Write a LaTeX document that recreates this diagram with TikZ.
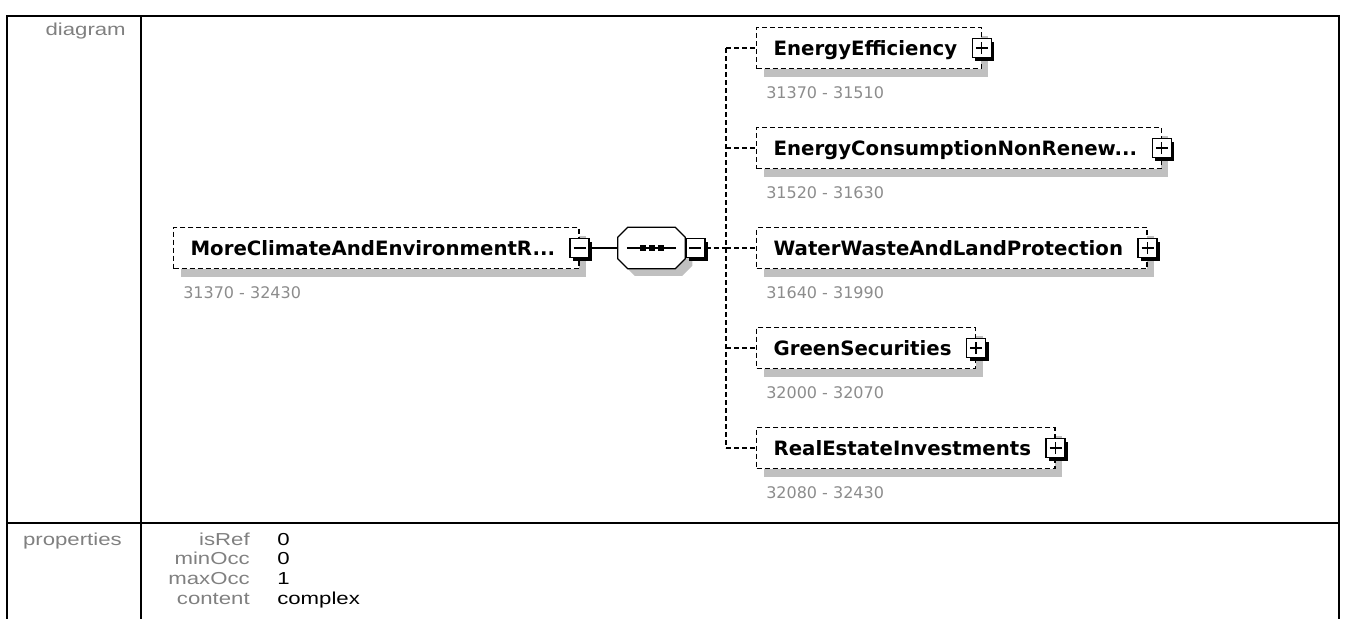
\documentclass[tikz,border=0pt]{standalone}
\usepackage{fontspec}
\usepackage{graphicx}
\setmainfont{Liberation Sans}
\newfontfamily\elemfont{DejaVu Sans}
\usepackage{xcolor}
\usetikzlibrary{shadows}
\definecolor{shadowgray}{HTML}{C0C0C0}
\definecolor{rangegray}{HTML}{8C8C8C}
\definecolor{labelgray}{HTML}{808080}
\newcommand{\widetxt}[1]{\scalebox{1.28}[1]{#1}}

\begin{document}
\begin{tikzpicture}[x=0.75pt,y=-0.75pt,
  frame/.style={line width=1.5pt},
  rowlabel/.style={anchor=east,inner sep=0pt,text=labelgray,text height=9.3pt,text depth=0pt,font=\fontsize{13}{15}\selectfont},
  propval/.style={anchor=west,inner sep=0pt,text height=9.3pt,text depth=0pt,font=\fontsize{13}{15}\selectfont},
  elem/.style={draw,fill=white,dash pattern=on 3.75pt off 2.25pt,line width=0.9pt,
    minimum height=30.75pt,inner xsep=12.75pt,inner ysep=0pt,anchor=west,
    text height=10.6pt,text depth=0pt,font=\elemfont\bfseries\fontsize{14.8}{16}\selectfont,
    drop shadow={shadow xshift=5.25pt,shadow yshift=-6pt,fill=shadowgray,opacity=1}},
  occrange/.style={anchor=west,inner sep=0pt,text=rangegray,text height=8.7pt,text depth=0pt,
    font=\elemfont\fontsize{12}{14}\selectfont},
  toggle/.style={draw,fill=white,line width=1pt,minimum size=14.25pt,inner sep=0pt,
    drop shadow={shadow xshift=2.25pt,shadow yshift=-2.25pt,fill=black,opacity=1}},
  tminus/.style={toggle,path picture={\draw[line width=1pt]
    ([xshift=-4.5pt]path picture bounding box.center) -- ([xshift=4.5pt]path picture bounding box.center);}},
  tplus/.style={toggle,path picture={\draw[line width=1pt]
    ([xshift=-4.5pt]path picture bounding box.center) -- ([xshift=4.5pt]path picture bounding box.center)
    ([yshift=-4.5pt]path picture bounding box.center) -- ([yshift=4.5pt]path picture bounding box.center);}},
  dconn/.style={line width=0.9pt,dash pattern=on 3.75pt off 2.25pt}]
\useasboundingbox (0,0) rectangle (1346,619);

% table frame
\draw[frame] (6,16) -- (1340,16);
\draw[frame] (7,16) -- (7,619);
\draw[frame] (141,16) -- (141,619);
\draw[frame] (1339,16) -- (1339,619);
\draw[frame] (7,523) -- (1339,523);

\node[rowlabel] (diaglbl) at (126,29) {\widetxt{diagram}};
\node[rowlabel] (proplbl) at (122,539) {\widetxt{properties}};

% properties
\node[rowlabel] (isref) at (250,539) {\widetxt{isRef}};
\node[propval] (isrefval) at (277,539) {\widetxt{0}};
\node[rowlabel] (minocc) at (250,558) {\widetxt{minOcc}};
\node[propval] (minoccval) at (277,558) {\widetxt{0}};
\node[rowlabel] (maxocc) at (250,578) {\widetxt{maxOcc}};
\node[propval] (maxoccval) at (277,578) {\widetxt{1}};
\node[rowlabel] (content) at (250,598) {\widetxt{content}};
\node[propval] (contentval) at (277,598) {\widetxt{complex}};

% root element
\node[elem] (mcae) at (173,248) {MoreClimateAndEnvironmentR...\hspace*{5.25pt}};
\node[occrange] (mcaerange) at ([xshift=7.5pt,yshift=-17.6pt]mcae.south west) {31370 - 32430};
\node[tminus] (mcaeminus) at (mcae.east) {};

% sequence
\node[minimum width=50.25pt,minimum height=30.75pt,inner sep=0pt] (seq) at (651.5,248) {};
\draw[fill=white,line width=0.9pt,drop shadow={shadow xshift=5.25pt,shadow yshift=-5.25pt,fill=shadowgray,opacity=1}]
  ([xshift=7.5pt]seq.north west) -- ([xshift=-7.5pt]seq.north east) -- ([yshift=-7.5pt]seq.north east)
  -- ([yshift=7.5pt]seq.south east) -- ([xshift=-7.5pt]seq.south east) -- ([xshift=7.5pt]seq.south west)
  -- ([yshift=7.5pt]seq.south west) -- ([yshift=-7.5pt]seq.north west) -- cycle;
\draw[line width=0.9pt] ([xshift=-18.4pt]seq.center) -- ([xshift=18.4pt]seq.center);
\foreach \dx in {-6.75,0,6.75}
  \fill ([xshift=\dx pt]seq.center) ++(-3,-3) rectangle ++(6,6);
\node[tminus,anchor=west] (seqminus) at (seq.east) {};

% children
\node[elem] (ee) at (756,48) {EnergyEfficiency\hspace*{5.25pt}};
\node[occrange] (eerange) at ([xshift=7.5pt,yshift=-17.6pt]ee.south west) {31370 - 31510};
\node[tplus] (eeplus) at (ee.east) {};

\node[elem] (ecnr) at (756,148) {EnergyConsumptionNonRenew...\hspace*{5.25pt}};
\node[occrange] (ecnrrange) at ([xshift=7.5pt,yshift=-17.6pt]ecnr.south west) {31520 - 31630};
\node[tplus] (ecnrplus) at (ecnr.east) {};

\node[elem] (wwlp) at (756,248) {WaterWasteAndLandProtection\hspace*{5.25pt}};
\node[occrange] (wwlprange) at ([xshift=7.5pt,yshift=-17.6pt]wwlp.south west) {31640 - 31990};
\node[tplus] (wwlpplus) at (wwlp.east) {};

\node[elem] (gs) at (756,348) {GreenSecurities\hspace*{5.25pt}};
\node[occrange] (gsrange) at ([xshift=7.5pt,yshift=-17.6pt]gs.south west) {32000 - 32070};
\node[tplus] (gsplus) at (gs.east) {};

\node[elem] (rei) at (756,448) {RealEstateInvestments\hspace*{5.25pt}};
\node[occrange] (reirange) at ([xshift=7.5pt,yshift=-17.6pt]rei.south west) {32080 - 32430};
\node[tplus] (reiplus) at (rei.east) {};

% connectors
\draw[line width=0.9pt] (mcaeminus.east) -- (seq.west);
\coordinate (hub) at (726,248);
\draw[dconn] (seqminus.east) -- (hub);
\draw[dconn] (hub |- ee.west) -- (hub |- rei.west);
\foreach \n in {ee,ecnr,wwlp,gs,rei}
  \draw[dconn] (hub |- \n.west) -- (\n.west);
\end{tikzpicture}
\end{document}
